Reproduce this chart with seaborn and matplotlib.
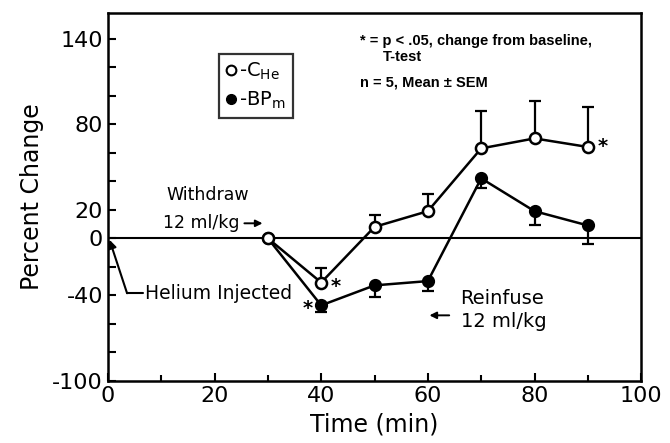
import matplotlib
matplotlib.use("Agg")
import matplotlib.pyplot as plt
from matplotlib.lines import Line2D
import numpy as np
import pandas as pd
import seaborn as sns

# ---- data ----
time_min = [30, 40, 50, 60, 70, 80, 90]
c_he = [0, -31, 8, 19, 63, 70, 64]
c_he_sem = [0, 10, 8.5, 12, 26, 26, 28]
bp_m = [0, -47, -33, -30, 42, 19, 9]
bp_m_sem = [0, 5, 8, 7, 7, 10, 13]

x_major = [0, 20, 40, 60, 80, 100]
x_minor = [10, 30, 50, 70, 90]
y_ticks = [-100, -80, -60, -40, -20, 0, 20, 40, 60, 80, 100, 120, 140]
y_labels = ["-100", "", "", "-40", "", "0", "20", "", "", "80", "", "", "140"]

sns.set_style("ticks")
plt.rcParams["font.family"] = ["DejaVu Sans"]
for k in ["text.color", "axes.labelcolor", "xtick.color", "ytick.color",
          "axes.edgecolor"]:
    plt.rcParams[k] = "black"

fig = plt.figure(figsize=(6.7, 4.43), dpi=100)
ax = fig.add_axes([0.161, 0.14, 0.796, 0.831])

df = pd.DataFrame({"t": time_min, "che": c_he, "bpm": bp_m})

ax.axhline(0, color="black", lw=1.5, zorder=1)

sns.lineplot(data=df, x="t", y="bpm", ax=ax, color="black", lw=1.8,
             marker="o", markersize=8, markerfacecolor="black",
             markeredgecolor="black", markeredgewidth=1.5, zorder=3)
sns.lineplot(data=df, x="t", y="che", ax=ax, color="black", lw=1.8,
             marker="o", markersize=8, markerfacecolor="white",
             markeredgecolor="black", markeredgewidth=1.8, zorder=4)

t = np.array(time_min)
che = np.array(c_he); ches = np.array(c_he_sem)
bpm = np.array(bp_m); bpms = np.array(bp_m_sem)
m1 = ches > 0
ax.errorbar(t[m1], che[m1], yerr=[np.zeros(m1.sum()), ches[m1]], fmt="none",
            ecolor="black", elinewidth=1.6, capsize=4, capthick=1.6, zorder=2)
m2 = bpms > 0
ax.errorbar(t[m2], bpm[m2], yerr=[bpms[m2], np.zeros(m2.sum())], fmt="none",
            ecolor="black", elinewidth=1.6, capsize=4, capthick=1.6, zorder=2)

ax.set_xlim(0, 100)
ax.set_ylim(-100, 158)
ax.set_xticks(x_major)
ax.set_xticks(x_minor, minor=True)
ax.set_yticks(y_ticks)
ax.set_yticklabels(y_labels)
ax.tick_params(axis="both", which="both", direction="in", width=1.5,
               labelsize=16, colors="black")
ax.tick_params(axis="both", which="major", length=6)
ax.tick_params(axis="both", which="minor", length=4)
for s in ax.spines.values():
    s.set_visible(True)
    s.set_linewidth(1.8)
    s.set_color("black")

ax.set_xlabel("Time (min)", fontsize=17, labelpad=5)
ax.set_ylabel("Percent Change", fontsize=17, labelpad=6)

# legend
handles = [Line2D([], [], marker="o", ls="none", mfc="white", mec="black",
                  mew=1.5, ms=7),
           Line2D([], [], marker="o", ls="none", mfc="black", mec="black",
                  ms=7)]
leg = ax.legend(handles, ["-C$_\\mathrm{He}$", "-BP$_\\mathrm{m}$"],
                loc="upper left",
                bbox_to_anchor=(0.19, 0.915), frameon=True, fancybox=False,
                edgecolor="black", handlelength=0.5, handletextpad=0.2,
                fontsize=14, borderpad=0.35, labelspacing=0.4)
leg.get_frame().set_linewidth(1.6)
leg.get_frame().set_edgecolor("black")

# annotations
ax.text(47.3, 138, "* = p < .05, change from baseline,", fontsize=10.5,
        family="Liberation Sans", fontweight="bold", va="center")
ax.text(51.6, 127, "T-test", fontsize=10.5, family="Liberation Sans",
        fontweight="bold", va="center")
ax.text(47.3, 109.5, "n = 5, Mean ± SEM", fontsize=10.5,
        family="Liberation Sans", fontweight="bold", va="center")

ax.text(11.0, 30, "Withdraw", fontsize=12.5, va="center")
ax.text(10.4, 11, "12 ml/kg", fontsize=12.5, va="center")
ax.annotate("", xy=(29, 10.5), xytext=(25.6, 10.5),
            arrowprops=dict(arrowstyle="-|>", lw=1.4, color="black",
                            mutation_scale=10, shrinkA=0, shrinkB=0))

ax.text(7, -39, "Helium Injected", fontsize=13.5, va="center")
ax.plot([3.6, 6.6], [-38.5, -38.5], color="black", lw=1.5)
ax.annotate("", xy=(0.3, -1), xytext=(3.6, -38.5),
            arrowprops=dict(arrowstyle="-|>", lw=1.5, color="black",
                            mutation_scale=12, shrinkA=0, shrinkB=0))

ax.text(66, -42, "Reinfuse", fontsize=14, va="center")
ax.text(66.3, -58, "12 ml/kg", fontsize=14, va="center")
ax.annotate("", xy=(60.3, -54), xytext=(64, -54),
            arrowprops=dict(arrowstyle="-|>", lw=1.4, color="black",
                            mutation_scale=10, shrinkA=0, shrinkB=0))

ax.text(41.8, -34, "*", fontsize=14, va="center", fontweight="bold")
ax.text(36.6, -49, "*", fontsize=14, va="center", fontweight="bold")
ax.text(91.8, 64, "*", fontsize=14, va="center", fontweight="bold")

fig.savefig("out.png", dpi=100)
